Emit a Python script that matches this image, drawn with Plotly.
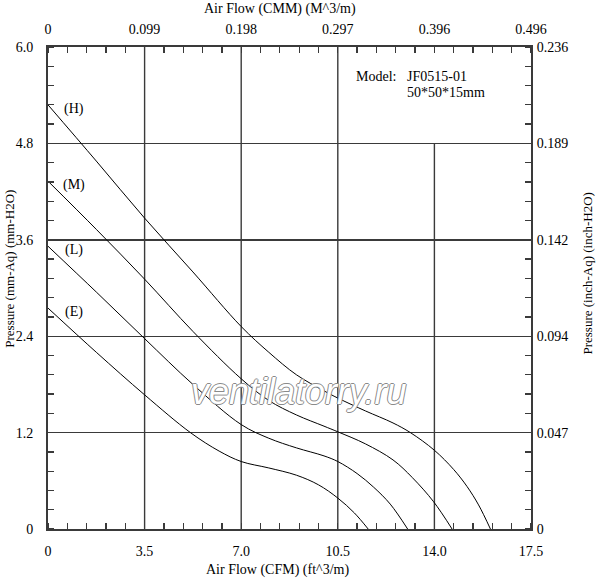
import plotly.graph_objects as go

# ---- data ----
x_ticks = [0, 3.5, 7.0, 10.5, 14.0, 17.5]
x_labels_cfm = ["0", "3.5", "7.0", "10.5", "14.0", "17.5"]
x_labels_cmm = ["0", "0.099", "0.198", "0.297", "0.396", "0.496"]
y_ticks = [0, 1.2, 2.4, 3.6, 4.8, 6.0]
y_labels_mm = ["0", "1.2", "2.4", "3.6", "4.8", "6.0"]
y_labels_inch = ["0", "0.047", "0.094", "0.142", "0.189", "0.236"]

h_x = [0, 1.75, 3.5, 5.25, 7.0, 8.0, 9.0, 10.0, 10.5, 11.5, 12.5, 13.13, 14.0, 14.7, 15.18, 15.6, 16.03]
h_y = [5.28, 4.58, 3.87, 3.2, 2.52, 2.2, 1.92, 1.72, 1.63, 1.47, 1.32, 1.2, 0.98, 0.74, 0.53, 0.3, 0]

m_x = [0, 1.75, 3.5, 5.25, 7.0, 8.0, 9.0, 10.0, 10.5, 11.5, 12.5, 13.2, 13.97, 14.64]
m_y = [4.33, 3.73, 3.11, 2.46, 1.87, 1.6, 1.42, 1.28, 1.21, 1.06, 0.86, 0.64, 0.34, 0]

l_x = [0, 1.75, 3.5, 5.25, 7.0, 8.0, 9.0, 10.0, 10.5, 11.2, 11.8, 12.4, 13.03]
l_y = [3.52, 2.95, 2.37, 1.8, 1.30, 1.13, 1.01, 0.91, 0.84, 0.69, 0.52, 0.31, 0]

e_x = [0, 1.75, 3.5, 5.16, 6.2, 7.0, 8.0, 9.0, 9.8, 10.5, 11.1, 11.6]
e_y = [2.75, 2.2, 1.67, 1.2, 0.97, 0.84, 0.76, 0.67, 0.55, 0.385, 0.2, 0]

curve_names = ["(H)", "(M)", "(L)", "(E)"]
curves = [(h_x, h_y), (m_x, m_y), (l_x, l_y), (e_x, e_y)]

model_label = "Model:"
model_name = "JF0515-01"
model_size = "50*50*15mm"
watermark = "ventilatorry.ru"

# ---- figure ----
SERIF = "Liberation Serif"
GRID = "#3a3a3a"
fig = go.Figure()

for (xs, ys), name in zip(curves, curve_names):
    fig.add_trace(go.Scatter(x=xs, y=ys, mode="lines", name=name,
                             line=dict(color="black", width=1, shape="spline", smoothing=1.0),
                             showlegend=False, hoverinfo="skip"))

# dummy trace for secondary axes
fig.add_trace(go.Scatter(x=[0], y=[0], xaxis="x2", yaxis="y2", mode="markers",
                         marker=dict(opacity=0), showlegend=False, hoverinfo="skip"))

minor_x = dict(ticks="inside", dtick=0.7, ticklen=6, tickcolor=GRID, tickwidth=1.3, showgrid=False)
minor_y = dict(ticks="inside", dtick=0.24, ticklen=6, tickcolor=GRID, tickwidth=1.3, showgrid=False)
tickfont = dict(family=SERIF, size=14, color="black")

fig.update_layout(
    width=600, height=580,
    margin=dict(l=48, r=69, t=47, b=51),
    paper_bgcolor="white", plot_bgcolor="white",
    xaxis=dict(range=[0, 17.5], tickvals=x_ticks, ticktext=x_labels_cfm, ticks="",
               showgrid=False, zeroline=False, showline=True, linecolor=GRID, linewidth=2,
               minor=minor_x, tickfont=tickfont, ticklabelstandoff=8, fixedrange=True),
    xaxis2=dict(range=[0, 17.5], tickvals=x_ticks, ticktext=x_labels_cmm, ticks="",
                overlaying="x", side="top", anchor="y", showgrid=False, zeroline=False,
                showline=True, linecolor=GRID, linewidth=2, minor=minor_x,
                tickfont=tickfont, ticklabelstandoff=5),
    yaxis=dict(range=[0, 6.0], tickvals=y_ticks, ticktext=y_labels_mm, ticks="",
               showgrid=True, gridcolor=GRID, gridwidth=1.4, zeroline=False,
               showline=True, linecolor=GRID, linewidth=2, minor=minor_y,
               tickfont=tickfont, ticklabelstandoff=10),
    yaxis2=dict(range=[0, 6.0], tickvals=y_ticks, ticktext=y_labels_inch, ticks="",
                overlaying="y", side="right", anchor="x", showgrid=False, zeroline=False,
                showline=True, linecolor=GRID, linewidth=2, minor=minor_y,
                tickfont=tickfont, ticklabelstandoff=1),
)

# vertical grid lines (14.0 stops at 4.8 below the model box)
for xv in x_ticks[1:-1]:
    top = y_ticks[4] if xv == x_ticks[4] else y_ticks[-1]
    fig.add_shape(type="line", x0=xv, x1=xv, y0=y_ticks[0], y1=top, xref="x", yref="y",
                  line=dict(color=GRID, width=1.4), layer="below")

# curve labels
for (xs, ys), name in zip(curves, curve_names):
    fig.add_annotation(x=xs[0] + 0.95, y=ys[0] - 0.05, text=name, showarrow=False,
                       font=dict(family=SERIF, size=14, color="black"),
                       xanchor="center", yanchor="middle")

# model text
fig.add_annotation(x=11.1, y=5.63, text=model_label, showarrow=False, xanchor="left",
                   yanchor="middle", font=dict(family=SERIF, size=14, color="black"))
fig.add_annotation(x=12.95, y=5.63, text=model_name, showarrow=False, xanchor="left",
                   yanchor="middle", font=dict(family=SERIF, size=14, color="black"))
fig.add_annotation(x=12.95, y=5.43, text=model_size, showarrow=False, xanchor="left",
                   yanchor="middle", font=dict(family=SERIF, size=14, color="black"))

# watermark
fig.add_annotation(x=9.07, y=1.71, text=watermark, showarrow=False, xanchor="center",
                   yanchor="middle",
                   font=dict(family="Liberation Sans", size=36, color="white", style="italic",
                             shadow="-1px 0 #8a8a8a, 1px 0 #8a8a8a, 0 1px #8a8a8a, 0 -1px #8a8a8a"))

# axis titles
fig.add_annotation(xref="paper", yref="paper", x=0.48, y=1, yshift=38, text="Air Flow (CMM) (M^3/m)",
                   showarrow=False, font=dict(family=SERIF, size=14, color="black"), yanchor="middle")
fig.add_annotation(xref="paper", yref="paper", x=0.475, y=0, yshift=-41, text="Air Flow (CFM) (ft^3/m)",
                   showarrow=False, font=dict(family=SERIF, size=14, color="black"), yanchor="middle")
fig.add_annotation(xref="paper", yref="paper", x=0, xshift=-38, y=0.54, text="Pressure (mm-Aq) (mm-H2O)",
                   textangle=-90, showarrow=False, font=dict(family=SERIF, size=13, color="black"),
                   xanchor="center", yanchor="middle")
fig.add_annotation(xref="paper", yref="paper", x=1, xshift=57, y=0.53, text="Pressure (inch-Aq) (inch-H2O)",
                   textangle=-90, showarrow=False, font=dict(family=SERIF, size=13, color="black"),
                   xanchor="center", yanchor="middle")

fig.write_html("out.html", config={"displayModeBar": False, "staticPlot": True},
               post_script="document.body.style.margin='0';")
